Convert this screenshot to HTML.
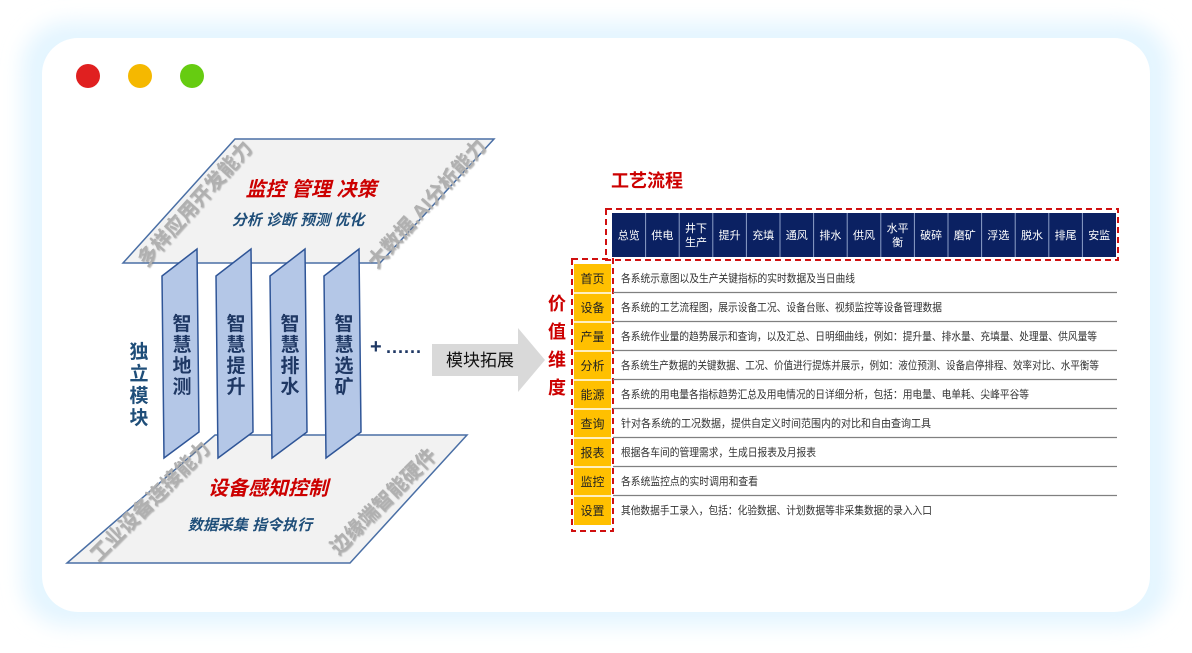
<!DOCTYPE html>
<html><head><meta charset="utf-8"><style>
body{margin:0;width:1192px;height:648px;background:#fff;overflow:hidden;font-family:"Liberation Sans","Noto Sans CJK SC",sans-serif}
</style></head><body>
<svg width="1192" height="648" viewBox="0 0 1192 648" font-family="Liberation Sans, Noto Sans CJK SC, sans-serif">
<defs>
<filter id="g" x="-10%" y="-10%" width="120%" height="120%"><feGaussianBlur stdDeviation="10"/></filter>
<filter id="sh"><feDropShadow dx="1" dy="1" stdDeviation="0.5" flood-color="#777" flood-opacity="0.5"/></filter>
</defs>
<rect x="22" y="22" width="1148" height="604" rx="45" fill="#e4f5ff" filter="url(#g)"/>
<rect x="42" y="38" width="1108" height="574" rx="36" fill="#fff"/>
<circle cx="88" cy="76" r="12" fill="#e02020"/>
<circle cx="140" cy="76" r="12" fill="#f5b800"/>
<circle cx="192" cy="76" r="12" fill="#66cc11"/>

<polygon points="235,139 494,139 380,263 123,263" fill="#f2f2f2" stroke="#4a6fa5" stroke-width="1.5"/>
<polygon points="215,435 467,435 350,563 67,563" fill="#f2f2f2" stroke="#4a6fa5" stroke-width="1.5"/>

<g font-weight="bold" font-size="20" fill="#b0b0b0" filter="url(#sh)">
<text transform="translate(200,208) rotate(-48)" text-anchor="middle">多样应用开发能力</text>
<text transform="translate(432,208) rotate(-48)" text-anchor="middle">大数据.AI分析能力</text>
<text transform="translate(155,506) rotate(-45)" text-anchor="middle">工业设备连接能力</text>
<text transform="translate(388,506) rotate(-45)" text-anchor="middle">边缘端智能硬件</text>
</g>
<g font-weight="bold" font-style="italic" text-anchor="middle">
<text x="311" y="196" font-size="20" fill="#cc0000">监控 管理 决策</text>
<text x="298" y="225" font-size="15" fill="#1f4e79">分析 诊断 预测 优化</text>
<text x="268" y="495" font-size="20" fill="#cc0000">设备感知控制</text>
<text x="250" y="530" font-size="15" fill="#1f4e79">数据采集 指令执行</text>
</g>

<g fill="#b4c7e7" stroke="#2f5597" stroke-width="1.5">
<polygon points="162,276 197,249 199,432 164,458"/>
<polygon points="216,276 251,249 253,432 218,458"/>
<polygon points="270,276 305,249 307,432 272,458"/>
<polygon points="324,276 359,249 361,432 326,458"/>
</g>
<g font-weight="bold" font-size="19" fill="#1f3864" text-anchor="middle">
<text x="182" y="330">智</text><text x="182" y="351">慧</text><text x="182" y="372">地</text><text x="182" y="393">测</text>
<text x="236" y="330">智</text><text x="236" y="351">慧</text><text x="236" y="372">提</text><text x="236" y="393">升</text>
<text x="290" y="330">智</text><text x="290" y="351">慧</text><text x="290" y="372">排</text><text x="290" y="393">水</text>
<text x="344" y="330">智</text><text x="344" y="351">慧</text><text x="344" y="372">选</text><text x="344" y="393">矿</text>
</g>
<g font-weight="bold" font-size="19" fill="#1f4e79" text-anchor="middle">
<text x="139" y="358">独</text><text x="139" y="380">立</text><text x="139" y="402">模</text><text x="139" y="424">块</text>
</g>
<text x="370" y="353" font-size="20" font-weight="bold" fill="#1f3864">+</text>
<text x="386" y="353" font-size="18" font-weight="bold" fill="#1f3864" letter-spacing="1">......</text>
<polygon points="432,344 518,344 518,328 545,360 518,392 518,376 432,376" fill="#d9d9d9"/>
<text x="480" y="366" font-size="17" text-anchor="middle" fill="#111">模块拓展</text>

<g font-weight="bold" font-size="18" fill="#cc0000" text-anchor="middle">
<text x="557" y="310">价</text><text x="557" y="338">值</text><text x="557" y="366">维</text><text x="557" y="394">度</text>
</g>
<text x="611" y="187" font-size="18" font-weight="bold" fill="#cc0000">工艺流程</text>

<rect x="606" y="209" width="512" height="51" fill="none" stroke="#d01010" stroke-width="2" stroke-dasharray="6,4"/>
<rect x="612" y="213" width="504" height="44" fill="#0b2162"/>
<g stroke="#8ea0c8" stroke-width="1">
<line x1="645.6" y1="213" x2="645.6" y2="257"/><line x1="679.2" y1="213" x2="679.2" y2="257"/><line x1="712.8" y1="213" x2="712.8" y2="257"/><line x1="746.4" y1="213" x2="746.4" y2="257"/><line x1="780" y1="213" x2="780" y2="257"/><line x1="813.6" y1="213" x2="813.6" y2="257"/><line x1="847.2" y1="213" x2="847.2" y2="257"/><line x1="880.8" y1="213" x2="880.8" y2="257"/><line x1="914.4" y1="213" x2="914.4" y2="257"/><line x1="948" y1="213" x2="948" y2="257"/><line x1="981.6" y1="213" x2="981.6" y2="257"/><line x1="1015.2" y1="213" x2="1015.2" y2="257"/><line x1="1048.8" y1="213" x2="1048.8" y2="257"/><line x1="1082.4" y1="213" x2="1082.4" y2="257"/>
</g>
<g font-size="11" fill="#fff" text-anchor="middle">
<text x="628.8" y="239">总览</text><text x="662.4" y="239">供电</text>
<text x="696" y="232">井下</text><text x="696" y="246">生产</text>
<text x="729.6" y="239">提升</text><text x="763.2" y="239">充填</text><text x="796.8" y="239">通风</text><text x="830.4" y="239">排水</text><text x="864" y="239">供风</text>
<text x="897.6" y="232">水平</text><text x="897.6" y="246">衡</text>
<text x="931.2" y="239">破碎</text><text x="964.8" y="239">磨矿</text><text x="998.4" y="239">浮选</text><text x="1032" y="239">脱水</text><text x="1065.6" y="239">排尾</text><text x="1099.2" y="239">安监</text>
</g>

<rect x="572" y="259" width="41" height="272" fill="none" stroke="#d01010" stroke-width="2" stroke-dasharray="6,4"/>
<rect x="574" y="264" width="37" height="261" fill="#ffc000"/>
<g stroke="#fff" stroke-width="1.5">
<line x1="574" y1="293" x2="611" y2="293"/><line x1="574" y1="322" x2="611" y2="322"/><line x1="574" y1="351" x2="611" y2="351"/><line x1="574" y1="380" x2="611" y2="380"/><line x1="574" y1="409" x2="611" y2="409"/><line x1="574" y1="438" x2="611" y2="438"/><line x1="574" y1="467" x2="611" y2="467"/><line x1="574" y1="496" x2="611" y2="496"/>
</g>
<g stroke="#808080" stroke-width="1.2">
<line x1="613" y1="292.5" x2="1117" y2="292.5"/><line x1="613" y1="321.5" x2="1117" y2="321.5"/><line x1="613" y1="350.5" x2="1117" y2="350.5"/><line x1="613" y1="379.5" x2="1117" y2="379.5"/><line x1="613" y1="408.5" x2="1117" y2="408.5"/><line x1="613" y1="437.5" x2="1117" y2="437.5"/><line x1="613" y1="466.5" x2="1117" y2="466.5"/><line x1="613" y1="495.5" x2="1117" y2="495.5"/>
</g>
<g font-size="12" fill="#222" text-anchor="middle">
<text x="592.5" y="283">首页</text><text x="592.5" y="312">设备</text><text x="592.5" y="341">产量</text><text x="592.5" y="370">分析</text><text x="592.5" y="399">能源</text><text x="592.5" y="428">查询</text><text x="592.5" y="457">报表</text><text x="592.5" y="486">监控</text><text x="592.5" y="515">设置</text>
</g>
<g font-size="11" fill="#333">
<text x="621" y="282" textLength="234" lengthAdjust="spacingAndGlyphs">各系统示意图以及生产关键指标的实时数据及当日曲线</text>
<text x="621" y="311" textLength="321" lengthAdjust="spacingAndGlyphs">各系统的工艺流程图，展示设备工况、设备台账、视频监控等设备管理数据</text>
<text x="621" y="340" textLength="476" lengthAdjust="spacingAndGlyphs">各系统作业量的趋势展示和查询，以及汇总、日明细曲线，例如：提升量、排水量、充填量、处理量、供风量等</text>
<text x="621" y="369" textLength="478" lengthAdjust="spacingAndGlyphs">各系统生产数据的关键数据、工况、价值进行提炼并展示，例如：液位预测、设备启停排程、效率对比、水平衡等</text>
<text x="621" y="398" textLength="408" lengthAdjust="spacingAndGlyphs">各系统的用电量各指标趋势汇总及用电情况的日详细分析，包括：用电量、电单耗、尖峰平谷等</text>
<text x="621" y="427" textLength="310" lengthAdjust="spacingAndGlyphs">针对各系统的工况数据，提供自定义时间范围内的对比和自由查询工具</text>
<text x="621" y="456" textLength="195" lengthAdjust="spacingAndGlyphs">根据各车间的管理需求，生成日报表及月报表</text>
<text x="621" y="485" textLength="137" lengthAdjust="spacingAndGlyphs">各系统监控点的实时调用和查看</text>
<text x="621" y="514" textLength="311" lengthAdjust="spacingAndGlyphs">其他数据手工录入，包括：化验数据、计划数据等非采集数据的录入入口</text>
</g>
</svg>
</body></html>
